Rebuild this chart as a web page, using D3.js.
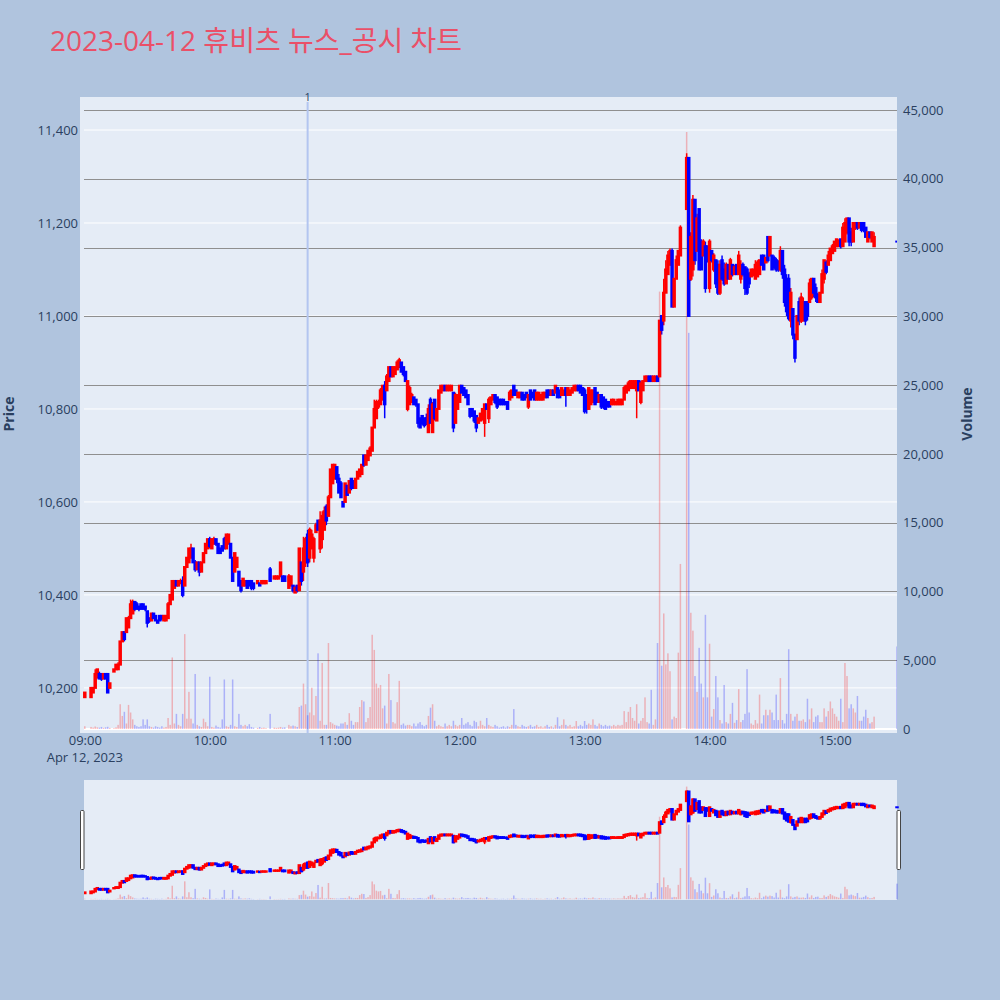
<!DOCTYPE html>
<html>
<head>
<meta charset="utf-8">
<script src="https://cdn.jsdelivr.net/npm/d3@7"></script>
<style>
  body { margin: 0; background: #b0c4de; }
  text { font-family: "Open Sans", "Noto Sans CJK KR", sans-serif; }
</style>
</head>
<body>
<svg id="chart" width="1000" height="1000"></svg>
<script>
// one candle per minute from 09:00 (null = no trade in that minute)
const open = [
  10180,null,null,10180,10190,10200,10230,10230,10230,10220,
  10230,10230,10200,null,10235,10240,10240,10250,10300,10320,
  10320,10330,10350,10360,10385,10380,10375,10380,10380,10375,
  10365,10350,10345,10360,10355,10345,10355,10355,10345,10345,
  10350,10380,10390,10415,10430,10420,10425,10430,10420,10460,
  10470,10480,10500,10470,10455,10470,10450,10470,10490,10500,
  10520,10500,10510,10520,10510,10500,10505,10520,10500,10510,
  10510,10480,10450,10460,10450,10430,10420,10420,10430,10430,
  10430,10425,null,10425,10425,10425,10425,10425,null,10455,
  null,10435,10435,10435,10440,10440,10440,null,10415,10420,
  10420,10405,10420,10410,10470,10450,10470,10530,10480,10500,
  10480,10535,10560,10500,10520,10540,10590,10570,10610,10640,
  10650,10675,10650,10640,10600,10600,10635,10620,10650,10645,
  10630,10650,10655,10660,10700,10680,10690,10700,10710,10760,
  10780,10805,10810,10820,10850,10840,10860,10890,10870,10875,
  10885,10890,10900,10890,10880,10800,10810,10815,10825,10820,
  10810,10780,10785,10780,10780,10750,10820,10750,10820,10775,
  10800,10835,10840,10850,10840,10840,10840,10835,10770,10800,
  10815,10850,10845,10840,10830,10800,10800,10795,10785,10770,
  10775,10780,10770,10810,10780,10810,10820,10830,10825,10820,
  10820,10820,10815,10815,10820,10825,10850,10840,10825,10825,
  10835,10830,10835,10805,10840,10835,10840,10820,10820,10820,
  10820,10825,10840,10840,10830,10840,10835,10845,10840,10830,
  10830,10845,10830,10830,10835,10840,10840,10850,10850,10845,
  10840,10830,10800,10810,10815,10845,10835,10815,10830,10825,
  10820,10815,10815,10810,10810,10810,10810,10810,10810,10820,
  10835,10840,10845,10845,10845,10840,10860,10815,10840,10860,
  10860,10870,10870,10860,10860,10870,10870,11000,10990,11050,
  11090,11110,11140,11020,11080,11110,11130,null,null,11230,
  11340,11080,11100,11250,11140,11230,11160,11130,11150,11150,
  11060,11140,11100,11120,11110,11050,11120,11100,11070,11110,
  11080,11110,11090,11110,11090,11080,11110,11105,11100,11090,
  11085,11090,11080,11085,11090,11130,11130,11115,11170,11130,
  11130,11125,11120,11115,11100,11140,11100,11080,11080,10990,
  11015,10960,10950,11030,10990,10990,11030,11030,11030,11040,
  11080,11060,11045,11030,11050,11080,11115,11110,11120,11135,
  11140,11150,11150,11165,11150,11160,11180,11210,11180,11160,
  11190,11200,11190,11200,11200,11190,11160,11180,11160,11150,
  null,null,null,null,null,null,null,null,null,null,
  11160
];
const high = [
  10190,null,null,10200,10200,10240,10240,10235,10230,10230,
  10230,10230,10210,null,10240,10250,10255,10300,10320,10320,
  10350,10355,10390,10390,10385,10385,10375,10380,10380,10375,
  10365,10350,10360,10360,10355,10345,10355,10355,10355,10355,
  10385,10400,10430,10430,10430,10430,10435,10440,10460,10480,
  10500,10510,10500,10475,10470,10470,10470,10490,10510,10520,
  10525,10520,10525,10520,10510,10500,10505,10525,10530,10530,
  10510,10480,10490,10480,10450,10430,10435,10430,10430,10430,
  10430,10425,null,10430,10425,10430,10430,10430,null,10460,
  null,10440,10440,10440,10470,10440,10440,null,10445,10440,
  10420,10420,10420,10500,10470,10525,10525,10540,10545,10540,
  10525,10555,10560,10580,10580,10590,10595,10615,10670,10680,
  10680,10675,10660,10645,10600,10640,10635,10645,10650,10645,
  10650,10665,10670,10680,10700,10700,10710,10720,10760,10820,
  10820,10820,10845,10850,10860,10875,10890,10890,10890,10890,
  10905,10910,10900,10890,10880,10860,10850,10835,10825,10820,
  10810,10780,10785,10780,10790,10810,10825,10815,10820,10800,
  10840,10850,10850,10850,10850,10850,10850,10835,10835,10830,
  10850,10850,10845,10840,10830,10800,10800,10795,10785,10780,
  10790,10800,10810,10810,10825,10825,10830,10830,10825,10820,
  10820,10820,10815,10815,10840,10840,10850,10840,10835,10835,
  10835,10830,10835,10830,10840,10835,10840,10835,10835,10830,
  10835,10835,10840,10840,10840,10840,10850,10845,10840,10845,
  10840,10845,10845,10840,10845,10850,10850,10850,10850,10845,
  10845,10830,10845,10840,10840,10845,10835,10830,10830,10825,
  10820,10815,10815,10820,10820,10815,10820,10820,10820,10850,
  10850,10860,10860,10860,10860,10860,10860,10860,10860,10870,
  10870,10870,10870,10870,10870,10870,10990,11000,11080,11120,
  11140,11145,11145,11080,11130,11140,11195,null,null,11350,
  11340,11180,11260,11250,11220,11230,11165,11165,11160,11150,
  11165,11140,11135,11120,11120,11120,11130,11115,11115,11110,
  11125,11110,11110,11110,11140,11120,11115,11105,11105,11095,
  11100,11100,11120,11120,11120,11130,11130,11125,11170,11170,
  11130,11130,11125,11120,11150,11140,11110,11090,11090,11060,
  11015,10960,11000,11040,11050,11040,11030,11030,11080,11080,
  11080,11070,11050,11050,11100,11120,11120,11140,11145,11155,
  11160,11165,11165,11165,11200,11210,11210,11210,11190,11200,
  11200,11200,11200,11200,11200,11190,11180,11180,11180,11180,
  null,null,null,null,null,null,null,null,null,null,
  11160
];
const low = [
  10180,null,null,10180,10190,10200,10220,10220,10215,10220,
  10220,10190,10200,null,10235,10240,10240,10250,10300,10300,
  10320,10330,10350,10360,10365,10370,10365,10370,10370,10365,
  10330,10340,10345,10350,10345,10340,10345,10345,10345,10345,
  10350,10380,10390,10415,10420,10420,10425,10395,10420,10460,
  10470,10480,10470,10450,10455,10440,10450,10470,10490,10500,
  10500,10500,10510,10505,10490,10490,10495,10500,10500,10510,
  10480,10430,10450,10460,10420,10405,10420,10420,10415,10420,
  10410,10410,null,10425,10420,10425,10425,10425,null,10430,
  null,10435,10435,10435,10440,10430,10430,null,10415,10420,
  10405,10405,10405,10410,10420,10430,10460,10460,10470,10500,
  10470,10535,10540,10490,10500,10540,10550,10570,10610,10640,
  10650,10640,10620,10610,10590,10600,10615,10620,10625,10630,
  10630,10650,10655,10660,10675,10680,10690,10700,10710,10760,
  10780,10800,10810,10820,10780,10840,10860,10870,10870,10875,
  10885,10890,10880,10870,10860,10795,10810,10815,10810,10805,
  10760,10760,10765,10760,10765,10750,10770,10750,10775,10775,
  10800,10835,10840,10840,10840,10840,10840,10750,10770,10800,
  10815,10835,10830,10825,10810,10780,10785,10770,10750,10770,
  10775,10775,10740,10800,10770,10810,10820,10810,10800,10810,
  10810,10810,10810,10800,10820,10825,10830,10830,10825,10825,
  10820,10820,10825,10800,10820,10825,10820,10820,10820,10820,
  10820,10825,10825,10830,10830,10830,10835,10825,10825,10830,
  10830,10805,10830,10830,10835,10840,10840,10840,10835,10830,
  10790,10790,10800,10810,10815,10810,10815,10815,10800,10800,
  10800,10805,10805,10810,10810,10810,10810,10810,10810,10820,
  10835,10840,10845,10845,10845,10780,10840,10810,10840,10860,
  10860,10860,10860,10860,10860,10860,10870,10960,10980,11050,
  11090,11110,11020,11020,11080,11110,11130,null,null,11230,
  11000,11075,11085,11110,11140,11100,11100,11130,11050,11115,
  11050,11115,11095,11060,11045,11045,11075,11065,11070,11080,
  11080,11085,11090,11090,11090,11070,11085,11045,11045,11060,
  11085,11085,11080,11085,11090,11110,11100,11115,11115,11130,
  11100,11100,11095,11095,11095,11080,11020,11000,10990,10975,
  10950,10900,10950,10980,10985,10990,10980,10990,11030,11035,
  11040,11030,11030,11030,11050,11070,11090,11110,11120,11135,
  11140,11150,11150,11145,11150,11160,11175,11150,11150,11160,
  11185,11185,11190,11180,11180,11170,11160,11165,11160,11150,
  null,null,null,null,null,null,null,null,null,null,
  11160
];
const close = [
  10190,null,null,10200,10200,10230,10240,10220,10220,10230,
  10220,10190,10210,null,10240,10250,10250,10300,10320,10305,
  10350,10350,10380,10385,10370,10370,10370,10370,10370,10370,
  10340,10345,10360,10350,10345,10340,10345,10350,10355,10355,
  10380,10400,10430,10430,10420,10430,10430,10400,10460,10480,
  10500,10500,10470,10455,10470,10450,10470,10490,10510,10520,
  10505,10520,10520,10510,10490,10490,10495,10500,10530,10530,
  10480,10430,10490,10480,10420,10410,10435,10430,10415,10420,
  10415,10415,null,10430,10420,10430,10430,10430,null,10430,
  null,10440,10440,10440,10470,10430,10430,null,10440,10440,
  10410,10415,10410,10500,10430,10500,10520,10470,10540,10530,
  10520,10550,10540,10560,10570,10580,10560,10610,10670,10680,
  10680,10650,10620,10610,10590,10640,10615,10645,10630,10630,
  10650,10665,10670,10680,10680,10700,10710,10715,10760,10800,
  10815,10815,10840,10850,10810,10870,10890,10870,10890,10890,
  10900,10905,10880,10875,10860,10860,10845,10830,10810,10810,
  10770,10760,10770,10765,10770,10800,10770,10810,10780,10800,
  10840,10850,10850,10840,10850,10850,10850,10760,10830,10830,
  10850,10835,10830,10825,10810,10785,10785,10775,10760,10780,
  10790,10800,10810,10800,10820,10825,10830,10815,10805,10810,
  10810,10810,10810,10800,10835,10840,10830,10830,10835,10835,
  10820,10820,10825,10830,10820,10825,10820,10835,10835,10830,
  10835,10835,10825,10830,10840,10830,10850,10825,10825,10845,
  10840,10830,10845,10840,10845,10850,10850,10840,10835,10830,
  10795,10800,10845,10840,10840,10810,10815,10830,10805,10805,
  10800,10805,10805,10820,10820,10815,10820,10820,10820,10845,
  10850,10855,10860,10860,10860,10860,10840,10855,10860,10870,
  10870,10860,10860,10870,10870,10860,10990,10970,11050,11100,
  11130,11140,11020,11080,11120,11140,11190,null,null,11340,
  11000,11170,11250,11120,11210,11100,11100,11160,11060,11120,
  11160,11120,11130,11070,11050,11110,11080,11070,11110,11080,
  11120,11090,11105,11090,11130,11110,11090,11060,11050,11070,
  11100,11100,11110,11115,11120,11110,11100,11125,11120,11170,
  11100,11105,11100,11100,11140,11090,11030,11010,10995,11050,
  10960,10910,11000,10990,11040,11030,10990,11000,11070,11080,
  11050,11040,11030,11050,11090,11120,11095,11130,11145,11150,
  11160,11165,11160,11150,11190,11200,11210,11160,11160,11200,
  11200,11190,11200,11185,11185,11170,11180,11170,11180,11170,
  null,null,null,null,null,null,null,null,null,null,
  11160
];
const volume = [
  200,null,null,150,100,180,120,100,150,80,
  120,160,80,null,60,120,300,1800,950,1250,
  400,1750,1200,700,300,200,150,200,700,300,
  700,200,150,100,200,150,100,200,100,150,
  800,300,5200,400,1100,300,200,1100,6900,750,
  2700,750,400,4000,300,200,150,750,500,200,
  3800,150,100,250,150,100,700,3600,200,150,
  300,3600,200,150,1100,300,200,300,200,350,
  150,100,null,80,150,80,100,60,null,1100,
  null,100,80,100,150,100,120,null,300,200,
  250,200,150,1600,1700,3300,1800,1000,1200,3000,
  1000,2400,5500,600,4800,300,300,6250,500,400,
  300,250,200,400,400,500,300,1150,600,300,
  500,500,1600,2100,2000,500,800,1600,6850,5750,
  3300,3000,3200,1500,1700,400,4000,2100,500,400,
  1950,3500,300,400,250,300,300,200,400,200,
  400,500,300,200,300,950,1550,1800,600,200,
  300,200,150,400,200,300,200,600,300,200,
  300,800,300,400,500,300,200,600,500,200,
  600,300,200,800,300,200,150,300,200,100,
  150,200,100,200,150,300,1450,300,200,150,
  300,200,150,200,300,150,200,300,150,200,
  100,200,300,150,200,100,300,850,200,300,
  700,300,200,300,150,200,580,200,300,200,
  580,300,400,300,700,300,200,400,300,200,
  300,200,250,200,300,200,300,250,300,1300,
  500,1250,1600,800,600,1800,400,600,800,2300,
  500,400,2850,300,700,6250,31800,4600,8400,4700,
  5500,4200,700,900,800,5550,12000,null,null,43400,
  28800,8450,7150,3850,2700,5900,3300,2300,8300,2300,
  6200,900,1450,3850,2300,650,400,3200,500,400,
  1100,1900,450,650,2900,500,650,1100,4350,1200,
  400,300,650,400,2500,400,1000,1400,1000,1400,
  1200,650,2500,650,3700,650,400,1100,5800,1100,
  600,900,1100,600,600,700,500,2200,700,1500,
  500,900,1000,500,500,1500,900,1300,2000,1500,
  1100,900,600,2200,500,4800,3850,1500,1800,1500,
  1200,2400,600,600,900,1400,800,400,500,900,
  null,null,null,null,null,null,null,null,null,null,
  6000
];

const sessionStart = "2023-04-12 09:00:00";
const xRangeLimits = ["2023-04-12 08:57:42", "2023-04-12 15:30:00"];
const priceRange = [10103, 11471];
const volumeRange = [-291, 45945];
const priceTicks = [10200, 10400, 10600, 10800, 11000, 11200, 11400];
const volumeTicks = [0, 5000, 10000, 15000, 20000, 25000, 30000, 35000, 40000, 45000];
const newsTimes = ["2023-04-12 10:47:00"];
const newsLabels = ["1"];
const titleText = "2023-04-12 휴비츠 뉴스_공시 차트";

const UP = "#ff0000", DOWN = "#0000ff", INK = "#2a3f5f";
const parse = d3.timeParse("%Y-%m-%d %H:%M:%S");
const t0 = parse(sessionStart);

const candles = close.map((c, i) => c == null ? null : ({
  t: d3.timeMinute.offset(t0, i), o: open[i], h: high[i], l: low[i], c: c, v: volume[i]
})).filter(d => d);

const svg = d3.select("#chart");
svg.append("rect").attr("width", 1000).attr("height", 1000).attr("fill", "#b0c4de");

const plot = { left: 80, right: 897, top: 97, bottom: 733 };
const slider = { left: 84, right: 897, top: 780, bottom: 900 };

const x = d3.scaleTime().domain(xRangeLimits.map(parse)).range([plot.left, plot.right]);
const yPrice = d3.scaleLinear().domain(priceRange).range([plot.bottom, plot.top]);
const yVol = d3.scaleLinear().domain(volumeRange).range([plot.bottom, plot.top]);
const yPriceS = d3.scaleLinear().domain(priceRange).range([slider.bottom, slider.top]);
const yVolS = d3.scaleLinear().domain(volumeRange).range([slider.bottom, slider.top]);

const defs = svg.append("defs");
defs.append("clipPath").attr("id", "clipMain").append("rect")
  .attr("x", plot.left).attr("y", plot.top)
  .attr("width", plot.right - plot.left).attr("height", plot.bottom - plot.top);
defs.append("clipPath").attr("id", "clipSlider").append("rect")
  .attr("x", slider.left).attr("y", slider.top)
  .attr("width", slider.right - slider.left + 3).attr("height", slider.bottom - slider.top);

// title
svg.append("text").attr("x", 50).attr("y", 51)
  .attr("font-size", 28).attr("fill", "#ea5068").text(titleText);

// plot background
svg.append("rect").attr("x", plot.left).attr("y", plot.top)
  .attr("width", plot.right - plot.left).attr("height", plot.bottom - plot.top)
  .attr("fill", "#e5ecf6");

const gridX0 = 84;
svg.append("g").selectAll("line").data(priceTicks).join("line")
  .attr("x1", gridX0).attr("x2", plot.right)
  .attr("y1", d => yPrice(d)).attr("y2", d => yPrice(d))
  .attr("stroke", "#ffffff").attr("stroke-width", 1);
svg.append("g").selectAll("line").data(volumeTicks.filter(d => d > 0)).join("line")
  .attr("x1", gridX0).attr("x2", plot.right)
  .attr("y1", d => Math.round(yVol(d)) + 0.5).attr("y2", d => Math.round(yVol(d)) + 0.5)
  .attr("stroke", "#8f8f8f").attr("stroke-width", 1);
svg.append("line").attr("x1", gridX0).attr("x2", plot.right)
  .attr("y1", yVol(0)).attr("y2", yVol(0))
  .attr("stroke", "#ffffff").attr("stroke-width", 2);

// news marker
const news = newsTimes.map((t, i) => ({ t: parse(t), label: newsLabels[i] }));
svg.append("g").selectAll("line").data(news).join("line")
  .attr("x1", d => x(d.t)).attr("x2", d => x(d.t))
  .attr("y1", plot.top + 5).attr("y2", plot.bottom)
  .attr("stroke", "#b3c5f0").attr("stroke-width", 2);
svg.append("g").selectAll("text").data(news).join("text")
  .attr("x", d => x(d.t)).attr("y", plot.top + 4)
  .attr("text-anchor", "middle").attr("font-size", 11).attr("fill", INK)
  .text(d => d.label);

function drawTraces(g, yP, yV, volW, bodyW) {
  const col = d => d.c > d.o ? UP : DOWN;
  g.append("g").selectAll("rect").data(candles).join("rect")
    .attr("x", d => x(d.t) - volW / 2).attr("width", volW)
    .attr("y", d => yV(d.v)).attr("height", d => yV(0) - yV(d.v))
    .attr("fill", col).attr("fill-opacity", 0.25);
  g.append("g").selectAll("line").data(candles).join("line")
    .attr("x1", d => x(d.t)).attr("x2", d => x(d.t))
    .attr("y1", d => yP(d.h)).attr("y2", d => yP(d.l))
    .attr("stroke", col).attr("stroke-width", 1.5);
  g.append("g").selectAll("rect").data(candles).join("rect")
    .attr("x", d => x(d.t) - bodyW / 2).attr("width", bodyW)
    .attr("y", d => yP(Math.max(d.o, d.c)) - 1)
    .attr("height", d => Math.abs(yP(d.o) - yP(d.c)) + 2)
    .attr("fill", col);
}

drawTraces(svg.append("g").attr("clip-path", "url(#clipMain)"), yPrice, yVol, 1.5, 3.5);

// axes
const axisFont = g => g.call(s => s.select(".domain").remove())
  .selectAll("text").attr("font-size", 13).attr("fill", INK)
  .style("font-family", "'Open Sans', sans-serif");

svg.append("g").attr("transform", `translate(${gridX0},0)`)
  .call(d3.axisLeft(yPrice).tickValues(priceTicks).tickFormat(d3.format(",")).tickSize(0).tickPadding(6))
  .call(axisFont);
svg.append("g").attr("transform", `translate(${plot.right},0)`)
  .call(d3.axisRight(yVol).tickValues(volumeTicks).tickFormat(d3.format(",")).tickSize(0).tickPadding(6))
  .call(axisFont);
svg.append("g").attr("transform", `translate(0,${plot.bottom})`)
  .call(d3.axisBottom(x).ticks(d3.timeHour.every(1)).tickFormat(d3.timeFormat("%H:%M")).tickSize(0).tickPadding(3))
  .call(axisFont);
svg.append("text").attr("x", x(t0)).attr("y", 762).attr("text-anchor", "middle")
  .attr("font-size", 13).attr("fill", INK).text(d3.timeFormat("%b %-d, %Y")(t0));

svg.append("text").attr("transform", "translate(14,414) rotate(-90)")
  .attr("text-anchor", "middle").attr("font-size", 14).attr("font-weight", "bold")
  .attr("fill", INK).text("Price");
svg.append("text").attr("transform", "translate(972,414) rotate(-90)")
  .attr("text-anchor", "middle").attr("font-size", 14).attr("font-weight", "bold")
  .attr("fill", INK).text("Volume");

// range slider
svg.append("rect").attr("x", slider.left).attr("y", slider.top)
  .attr("width", slider.right - slider.left).attr("height", slider.bottom - slider.top)
  .attr("fill", "#e5ecf6");
drawTraces(svg.append("g").attr("clip-path", "url(#clipSlider)"), yPriceS, yVolS, 1.5, 3.5);
[slider.left - 2, slider.right + 1.5].forEach(hx => {
  svg.append("rect").attr("x", hx - 1.5).attr("y", 810.5).attr("width", 3.5).attr("height", 59)
    .attr("rx", 1).attr("fill", "#ffffff").attr("stroke", "#444444").attr("stroke-width", 1);
});
</script>
</body>
</html>
